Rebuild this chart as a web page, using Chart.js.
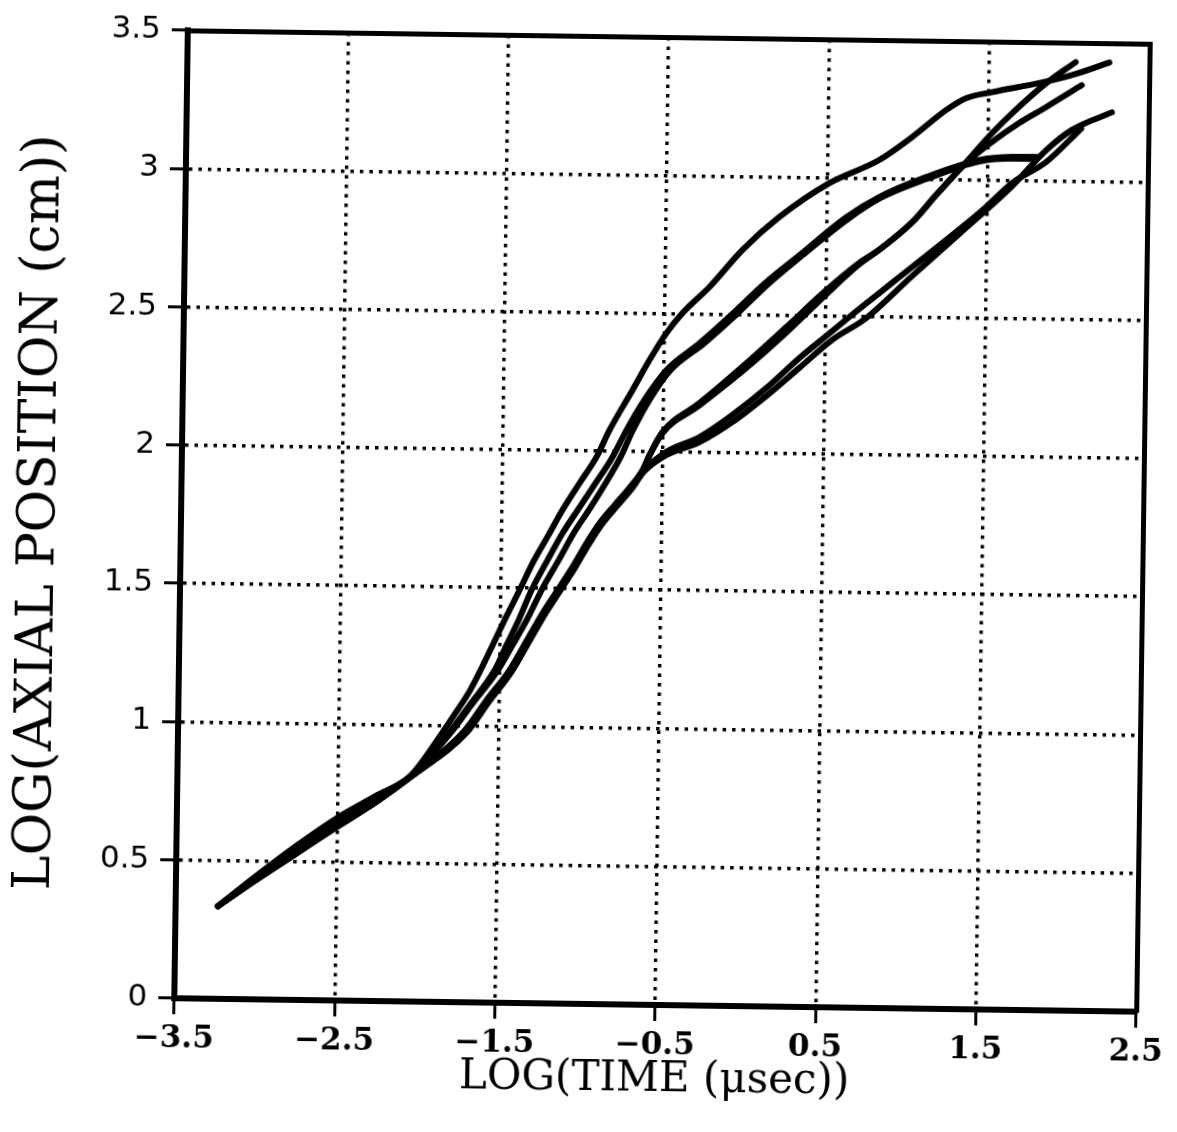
<!DOCTYPE html>
<html>
<head>
<meta charset="utf-8">
<title>LOG(AXIAL POSITION) vs LOG(TIME)</title>
<script src="https://cdn.jsdelivr.net/npm/chart.js@4.4.1/dist/chart.umd.min.js"></script>
<style>
  html, body { margin: 0; padding: 0; background: #fff; overflow: hidden; }
  /* the scanned plot is turned a little clockwise */
  #frame { position: relative; width: 1177px; height: 1132px; transform: rotate(0.8deg); transform-origin: 662px 521px; }
</style>
</head>
<body>
<div id="frame"><canvas id="positionChart"></canvas></div>
<script>
Chart.defaults.font.family = "'DejaVu Serif', serif";
Chart.defaults.color = "#000";

const timeTicks = [-3.5, -2.5, -1.5, -0.5, 0.5, 1.5, 2.5];
const timeLabels = ["\u22123.5", "\u22122.5", "\u22121.5", "\u22120.5", "0.5", "1.5", "2.5"];
const positionTicks = [0, 0.5, 1, 1.5, 2, 2.5, 3, 3.5];
const positionLabels = ["0", "0.5", "1", "1.5", "2", "2.5", "3", "3.5"];

// top curve
const curveA_x = [-3.236, -3.0, -2.75, -2.5, -2.25, -2.05, -1.85, -1.76, -1.685, -1.618, -1.545, -1.473, -1.382, -1.30, -1.21, -1.121, -1.017, -0.914, -0.835, -0.695, -0.592, -0.488, -0.39, -0.225, -0.022, 0.205, 0.514, 0.823, 1.027, 1.236, 1.36, 1.521, 1.813, 2.018, 2.25];
const curveA_y = [0.335, 0.446, 0.558, 0.66, 0.745, 0.814, 0.975, 1.055, 1.125, 1.202, 1.293, 1.384, 1.493, 1.595, 1.69, 1.785, 1.883, 1.978, 2.076, 2.222, 2.331, 2.43, 2.503, 2.598, 2.734, 2.855, 2.98, 3.066, 3.151, 3.25, 3.294, 3.317, 3.352, 3.383, 3.43];

// the heavy pair that stops near 1.8
const curveB1_x = [-3.236, -3.0, -2.75, -2.5, -2.25, -2.05, -1.80, -1.683, -1.53, -1.458, -1.385, -1.307, -1.21, -1.119, -1.027, -0.917, -0.814, -0.729, -0.62, -0.485, -0.28, -0.079, 0.124, 0.334, 0.623, 0.826, 1.118, 1.447, 1.652, 1.81];
const curveB1_y = [0.335, 0.444, 0.555, 0.657, 0.742, 0.813, 0.98, 1.075, 1.203, 1.294, 1.385, 1.494, 1.603, 1.701, 1.785, 1.884, 1.979, 2.077, 2.187, 2.296, 2.395, 2.502, 2.616, 2.718, 2.858, 2.932, 3.007, 3.071, 3.084, 3.085];
const curveB2_x = [-3.236, -3.0, -2.75, -2.5, -2.25, -2.05, -1.79, -1.673, -1.51, -1.421, -1.335, -1.245, -1.141, -1.05, -0.958, -0.855, -0.764, -0.689, -0.589, -0.46, -0.252, -0.051, 0.149, 0.353, 0.635, 0.832, 1.12, 1.447, 1.652, 1.80];
const curveB2_y = [0.335, 0.442, 0.552, 0.654, 0.74, 0.812, 0.98, 1.075, 1.203, 1.294, 1.385, 1.494, 1.603, 1.701, 1.785, 1.884, 1.979, 2.077, 2.187, 2.296, 2.395, 2.502, 2.616, 2.718, 2.852, 2.928, 3.0, 3.066, 3.078, 3.078];

// pair that bends up after the knee at -0.6
const curveC_x = [-3.236, -3.0, -2.75, -2.5, -2.25, -2.05, -1.712, -1.578, -1.437, -1.334, -1.237, -1.145, -1.054, -0.969, -0.889, -0.797, -0.706, -0.626, -0.584, -0.504, -0.277, 0.013, 0.259, 0.505, 0.708, 0.83, 1.035, 1.182, 1.366, 1.525, 1.65, 1.86, 2.04];
const curveC_y = [0.335, 0.434, 0.532, 0.63, 0.725, 0.81, 0.983, 1.094, 1.204, 1.31, 1.41, 1.495, 1.579, 1.666, 1.739, 1.805, 1.868, 1.933, 1.988, 2.072, 2.178, 2.325, 2.458, 2.593, 2.693, 2.741, 2.843, 2.943, 3.063, 3.169, 3.243, 3.353, 3.43];
const curveD_x = [-3.236, -3.0, -2.75, -2.5, -2.25, -2.05, -1.705, -1.572, -1.43, -1.327, -1.23, -1.138, -1.047, -0.962, -0.882, -0.79, -0.7, -0.622, -0.584, -0.504, -0.277, 0.013, 0.259, 0.505, 0.708, 0.83, 1.035, 1.182, 1.366, 1.525, 1.693, 1.86, 2.08];
const curveD_y = [0.335, 0.434, 0.532, 0.63, 0.725, 0.81, 0.983, 1.094, 1.204, 1.31, 1.41, 1.495, 1.579, 1.666, 1.739, 1.805, 1.868, 1.933, 1.985, 2.068, 2.17, 2.308, 2.438, 2.578, 2.688, 2.741, 2.843, 2.943, 3.06, 3.137, 3.207, 3.266, 3.347];

// pair that turns right after the knee
const curveE_x = [-3.236, -3.0, -2.75, -2.5, -2.25, -2.05, -1.70, -1.568, -1.428, -1.324, -1.228, -1.136, -1.045, -0.96, -0.88, -0.788, -0.698, -0.62, -0.478, -0.273, -0.07, 0.139, 0.342, 0.545, 0.681, 0.835, 1.038, 1.347, 1.494, 1.655, 1.864, 2.08];
const curveE_y = [0.335, 0.432, 0.53, 0.628, 0.723, 0.81, 0.98, 1.09, 1.2, 1.307, 1.407, 1.492, 1.576, 1.663, 1.736, 1.802, 1.865, 1.93, 2.0, 2.055, 2.137, 2.236, 2.346, 2.445, 2.512, 2.585, 2.681, 2.828, 2.902, 2.99, 3.067, 3.19];
const curveF_x = [-3.236, -3.0, -2.75, -2.5, -2.25, -2.05, -1.695, -1.563, -1.424, -1.32, -1.224, -1.132, -1.041, -0.956, -0.876, -0.784, -0.694, -0.616, -0.478, -0.273, -0.07, 0.139, 0.342, 0.545, 0.756, 1.038, 1.329, 1.655, 1.864, 2.021, 2.27];
const curveF_y = [0.335, 0.432, 0.53, 0.628, 0.723, 0.81, 0.978, 1.088, 1.198, 1.305, 1.405, 1.49, 1.574, 1.661, 1.734, 1.8, 1.863, 1.928, 1.989, 2.037, 2.111, 2.207, 2.31, 2.413, 2.494, 2.648, 2.803, 2.979, 3.11, 3.184, 3.25];

function buildPoints(xs, ys) {
    let points = [];
    for (let i = 0; i < xs.length; i++) {
        points.push({ x: xs[i], y: ys[i] });
    }
    return points;
}

function curveDataset(xs, ys) {
    return {
        data: buildPoints(xs, ys),
        borderColor: "#000",
        borderWidth: 6,
        borderCapStyle: "round",
        borderJoinStyle: "round",
        pointRadius: 0,
        fill: false,
        cubicInterpolationMode: "monotone"
    };
}

new Chart(document.getElementById("positionChart"), {
    type: "line",
    data: {
        datasets: [
            curveDataset(curveA_x, curveA_y),
            curveDataset(curveB1_x, curveB1_y),
            curveDataset(curveB2_x, curveB2_y),
            curveDataset(curveC_x, curveC_y),
            curveDataset(curveD_x, curveD_y),
            curveDataset(curveE_x, curveE_y),
            curveDataset(curveF_x, curveF_y)
        ]
    },
    options: {
        responsive: true,
        maintainAspectRatio: false,
        animation: false,
        layout: { padding: 0 },
        plugins: {
            legend: { display: false },
            tooltip: { enabled: false }
        },
        scales: {
            x: {
                type: "linear",
                position: "bottom",
                min: -3.5,
                max: 2.5,
                afterBuildTicks: axis => { axis.ticks = timeTicks.map(v => ({ value: v })); },
                afterFit: axis => { axis.height = 127; },
                ticks: {
                    autoSkip: false,
                    maxRotation: 0,
                    padding: 6,
                    font: { family: "'DejaVu Serif'", size: 31, weight: "bold" },
                    callback: (v, i) => timeLabels[i]
                },
                grid: { color: "#000", lineWidth: 3.4, tickLength: 16, tickWidth: 3, tickColor: "#000" },
                border: { display: true, color: "#000", width: 6, dash: [3.5, 6] },
                title: {
                    display: true,
                    text: "LOG(TIME (\u03bcsec))",
                    font: { family: "'DejaVu Serif'", size: 42 },
                    padding: { top: 0, bottom: 27 }
                }
            },
            y: {
                type: "linear",
                position: "left",
                min: 0,
                max: 3.5,
                afterBuildTicks: axis => { axis.ticks = positionTicks.map(v => ({ value: v })); },
                afterFit: axis => { axis.width = 181; },
                ticks: {
                    padding: 11,
                    font: { family: "'DejaVu Sans'", size: 31 },
                    callback: (v, i) => positionLabels[i]
                },
                grid: { color: "#000", lineWidth: 3.4, tickLength: 16, tickWidth: 3, tickColor: "#000" },
                border: { display: true, color: "#000", width: 6, dash: [3.5, 6] },
                title: {
                    display: true,
                    text: "LOG(AXIAL POSITION (cm))",
                    font: { family: "'DejaVu Serif'", size: 52 },
                    padding: { top: 9, bottom: 0 }
                }
            },
            xTop: {
                type: "linear",
                position: "top",
                min: -3.5,
                max: 2.5,
                afterFit: axis => { axis.height = 37; },
                ticks: { display: false },
                grid: { display: false, drawTicks: false },
                border: { display: true, color: "#000", width: 5 }
            },
            yRight: {
                type: "linear",
                position: "right",
                min: 0,
                max: 3.5,
                afterFit: axis => { axis.width = 34; },
                ticks: { display: false },
                grid: { display: false, drawTicks: false },
                border: { display: true, color: "#000", width: 5 }
            }
        }
    }
});
</script>
</body>
</html>
